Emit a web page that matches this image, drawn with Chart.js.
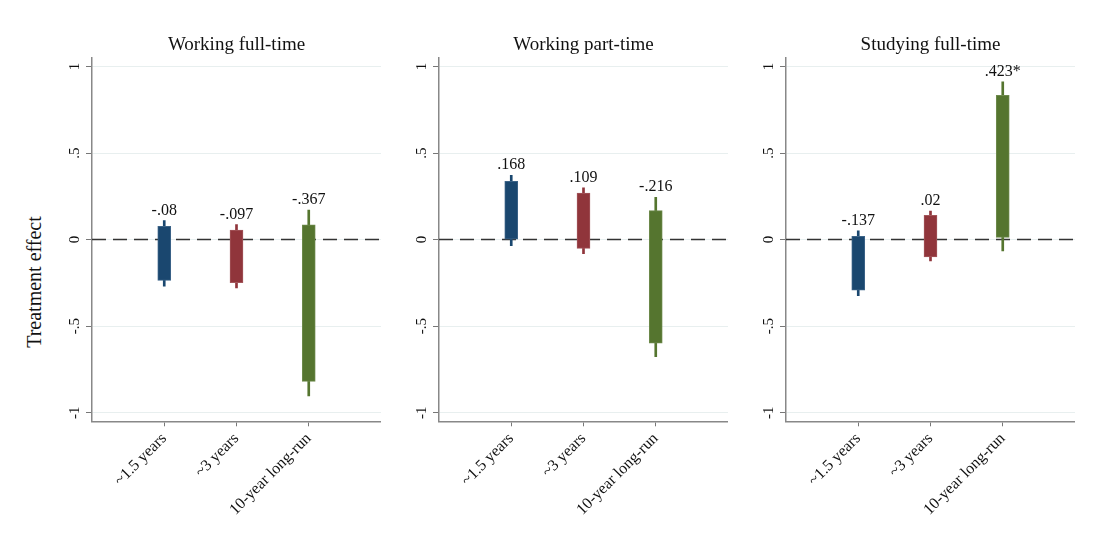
<!DOCTYPE html>
<html>
<head>
<meta charset="utf-8">
<script src="https://cdn.jsdelivr.net/npm/chart.js@4.4.1/dist/chart.umd.min.js"></script>
<style>
  html, body { margin: 0; padding: 0; background: #fff; }
  #wrap { position: relative; width: 1099px; height: 550px; background: #fff; overflow: hidden; }
  canvas { position: absolute; top: 0; }
  #ytitle {
    position: absolute; left: 33.5px; top: 281.5px;
    transform: translate(-50%, -50%) rotate(-90deg);
    font: 20px "Liberation Serif", "Times New Roman", serif;
    color: #111; white-space: nowrap;
  }
</style>
</head>
<body>
<div id="wrap">
  <div id="ytitle">Treatment effect</div>
  <canvas id="c0" width="349" height="550" style="left:32px"></canvas>
  <canvas id="c1" width="349" height="550" style="left:379px"></canvas>
  <canvas id="c2" width="349" height="550" style="left:726px"></canvas>
</div>
<script>
// Horizons at which the treatment effect is estimated
const categories = ['~1.5 years', '~3 years', '10-year long-run'];
const panelTitles = ['Working full-time', 'Working part-time', 'Studying full-time'];

// Point estimates, half-widths of the 90% and 95% intervals, significance stars
const estFullTime   = [-0.08, -0.097, -0.367];
const ci90FullTime  = [0.156, 0.152, 0.452];
const ci95FullTime  = [0.19, 0.183, 0.537];
const starsFullTime = ['', '', ''];

const estPartTime   = [0.168, 0.109, -0.216];
const ci90PartTime  = [0.168, 0.16, 0.383];
const ci95PartTime  = [0.203, 0.19, 0.46];
const starsPartTime = ['', '', ''];

const estStudying   = [-0.137, 0.02, 0.423];
const ci90Studying  = [0.155, 0.12, 0.41];
const ci95Studying  = [0.187, 0.144, 0.488];
const starsStudying = ['', '', '*'];

const yTickValues = [-1, -0.5, 0, 0.5, 1];

const barColors = ['#1a476f', '#90353b', '#55752f'];
const barEdges  = ['#3c6488', '#a3565b', '#6e8a4c'];
const FONT = '"Liberation Serif", "Times New Roman", serif';

Chart.defaults.font.family = FONT;

// Stata-style number: leading zero dropped (.5, -.08)
function stataNum(v) {
  const s = String(Math.round(v * 1000) / 1000);
  return s.replace(/^(-?)0\./, '$1.');
}

// Writes each point estimate above its 95% whisker
const estimateLabels = {
  id: 'estimateLabels',
  afterDatasetsDraw(chart, args, opts) {
    const { ctx, scales: { x, y } } = chart;
    ctx.save();
    ctx.font = '16px ' + FONT;
    ctx.fillStyle = '#111';
    ctx.textAlign = 'center';
    ctx.textBaseline = 'alphabetic';
    opts.est.forEach((e, i) => {
      const px = x.getPixelForValue(i + 1);
      const py = y.getPixelForValue(e + opts.ci95[i]);
      ctx.fillText(stataNum(e) + opts.stars[i], px, py - 6);
    });
    ctx.restore();
  }
};

function makePanel(id, title, est, ci90, ci95, stars) {
  const inner = est.map((e, i) => ({ x: i + 1, y: [e - ci90[i], e + ci90[i]] }));
  const outer = est.map((e, i) => ({ x: i + 1, y: [e - ci95[i], e + ci95[i]] }));
  return new Chart(document.getElementById(id), {
    type: 'bar',
    data: {
      datasets: [
        {
          label: '90% CI', data: inner,
          backgroundColor: barColors, borderColor: barEdges,
          borderWidth: 1, borderSkipped: false,
          barThickness: 13, grouped: false, order: 0
        },
        {
          label: '95% CI', data: outer,
          backgroundColor: barColors, borderWidth: 0,
          barThickness: 2, grouped: false, order: 1
        },
        {
          type: 'line', label: 'zero',
          data: [{ x: 0, y: 0 }, { x: categories.length + 1, y: 0 }],
          borderColor: '#333', borderWidth: 1.5, borderDash: [14, 7],
          pointRadius: 0, order: 2
        }
      ]
    },
    options: {
      responsive: false,
      animation: false,
      layout: { padding: { left: 10, right: 0, top: 0, bottom: 0 } },
      plugins: {
        legend: { display: false },
        tooltip: { enabled: false },
        title: {
          display: true, text: title, fullSize: false,
          color: '#111', font: { family: FONT, size: 19, weight: 'normal' },
          padding: { top: 34, bottom: 1 }
        },
        estimateLabels: { est, ci95, stars }
      },
      scales: {
        x: {
          type: 'linear', min: 0, max: categories.length + 1,
          offset: false,
          afterBuildTicks: s => { s.ticks = categories.map((c, i) => ({ value: i + 1 })); },
          afterFit: s => { s.height = 128.7; },
          grid: { display: true, drawOnChartArea: false, drawTicks: true, tickLength: 5, tickColor: '#777', offset: false },
          border: { display: true, color: '#888', width: 1.5 },
          ticks: {
            callback: v => categories[v - 1],
            autoSkip: false, minRotation: 45, maxRotation: 45, padding: 3,
            color: '#111', font: { family: FONT, size: 16 }
          }
        },
        y: {
          type: 'linear', min: -1.05, max: 1.05,
          afterBuildTicks: s => { s.ticks = yTickValues.map(v => ({ value: v })); },
          afterFit: s => { s.width = 50; },
          grid: { color: '#e8efef', lineWidth: 1, drawTicks: true, tickLength: 6, tickColor: '#777' },
          border: { color: '#888', width: 1.5 },
          ticks: {
            callback: v => stataNum(v),
            minRotation: 90, maxRotation: 90, crossAlign: 'center', padding: 3,
            color: '#111', font: { family: FONT, size: 15 }
          }
        }
      }
    },
    plugins: [estimateLabels]
  });
}

makePanel('c0', panelTitles[0], estFullTime, ci90FullTime, ci95FullTime, starsFullTime);
makePanel('c1', panelTitles[1], estPartTime, ci90PartTime, ci95PartTime, starsPartTime);
makePanel('c2', panelTitles[2], estStudying, ci90Studying, ci95Studying, starsStudying);
</script>
</body>
</html>
